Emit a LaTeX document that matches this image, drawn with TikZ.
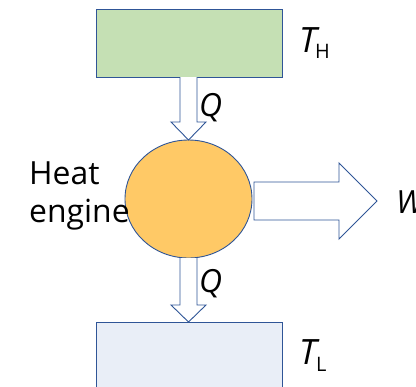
\documentclass[tikz,border=0pt]{standalone}
\usepackage{fontspec}
\setmainfont{Open Sans}
\usetikzlibrary{shapes.geometric}
\definecolor{edge}{HTML}{2F5597}
\definecolor{hotfill}{HTML}{C5E0B4}
\definecolor{coldfill}{HTML}{E9EEF7}
\definecolor{engfill}{HTML}{FFC966}
\tikzset{
  blk/.style={draw=edge, line width=0.9bp},
  lbl/.style={inner sep=0pt, anchor=base west, font=\fontsize{32}{36}\selectfont},
  ilbl/.style={inner sep=0pt, anchor=base west, font=\fontsize{32}{36}\selectfont\itshape},
  tlbl/.style={inner sep=0pt, anchor=base west, font=\fontsize{35}{40}\selectfont\itshape},
  slbl/.style={inner sep=0pt, anchor=base west, font=\fontsize{20}{22}\selectfont},
}
\begin{document}
\begin{tikzpicture}[x=1bp,y=-1bp]
\useasboundingbox (0,0) rectangle (416,387);
% reservoirs
\node[blk, fill=hotfill, minimum width=186bp, minimum height=68bp, inner sep=0pt, anchor=north west] (hot) at (96,9) {};
\node[blk, fill=coldfill, minimum width=186bp, minimum height=80bp, inner sep=0pt, anchor=north west] (cold) at (96,322) {};
% engine
\node[blk, fill=engfill, ellipse, minimum width=127bp, minimum height=118bp, inner sep=0pt] (eng) at (188.5,199) {};
% arrows
\draw[blk, fill=white, line join=miter] (180,77) -- (180,122) -- (171,122) -- (188.5,140) -- (206,122) -- (197,122) -- (197,77);
\draw[blk, fill=white, line join=miter] (180,258) -- (180,305) -- (171,305) -- (188.5,322) -- (206,305) -- (197,305) -- (197,258);
\draw[blk, fill=white, line join=miter] (254,182) -- (339,182) -- (339,163) -- (377,201) -- (339,239) -- (339,220) -- (254,220) -- cycle;
% labels
\node[lbl] (heat) at (29,184) {Heat};
\node[lbl] (engine) at (29,222) {engine};
\node[ilbl] (q1) at (199,116) {Q};
\node[ilbl] (q2) at (199,292) {Q};
\node[ilbl] (w) at (396,213) {W};
\node[tlbl] (th) at (299,52) {T};
\node[slbl] (thsub) at (315,58) {H};
\node[tlbl] (tl) at (299,364) {T};
\node[slbl] (tlsub) at (316,371) {L};
\end{tikzpicture}
\end{document}
